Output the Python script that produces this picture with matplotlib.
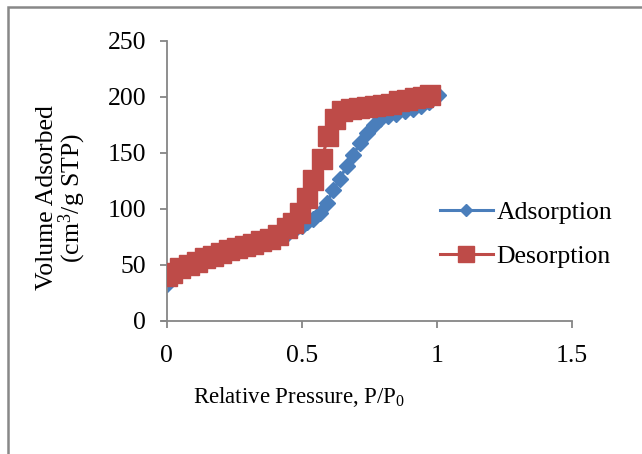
import matplotlib
matplotlib.use("Agg")
import matplotlib.pyplot as plt
from matplotlib.patches import Rectangle

# Data
ads_x = [0.00, 0.02, 0.05, 0.08, 0.11, 0.14, 0.17, 0.20, 0.23, 0.26, 0.29, 0.32,
         0.35, 0.38, 0.41, 0.44, 0.47, 0.50, 0.52, 0.54, 0.567, 0.592, 0.616, 0.641,
         0.665, 0.69, 0.715, 0.74, 0.765, 0.79, 0.82, 0.85, 0.88, 0.91, 0.94, 0.97, 1.005]
ads_y = [33, 40, 45, 48, 51, 54, 56, 59, 61, 63, 65, 67,
         69, 71, 74, 77, 81, 85, 88, 91, 96, 105, 117, 127,
         138, 148, 159, 168, 175, 180, 183, 185, 187, 189, 192, 195, 202]

des_x = [0.00, 0.02, 0.05, 0.08, 0.11, 0.14, 0.17, 0.20, 0.23, 0.26, 0.29, 0.32,
         0.35, 0.38, 0.41, 0.443, 0.468, 0.493, 0.517, 0.542, 0.573, 0.598, 0.622,
         0.647, 0.68, 0.71, 0.74, 0.77, 0.80, 0.83, 0.86, 0.89, 0.92, 0.95, 0.975]
des_y = [40, 43, 47, 50, 53, 56, 58, 61, 63, 65, 67, 69,
         71, 73, 77, 83, 87, 96, 110, 126, 145, 165, 180,
         187, 189, 190, 191, 192, 193, 194, 196, 197, 199, 200, 202]

x_ticks = [0, 0.5, 1, 1.5]
x_tick_labels = ['0', '0.5', '1', '1.5']
y_ticks = [0, 50, 100, 150, 200, 250]

blue = "#4A7EBB"
red = "#BE4B48"
grey = "#868686"

plt.rcParams['font.family'] = ['Liberation Serif', 'DejaVu Serif']
plt.rcParams['mathtext.fontset'] = 'custom'
plt.rcParams['mathtext.rm'] = 'Liberation Serif'
plt.rcParams['mathtext.it'] = 'Liberation Serif'
plt.rcParams['mathtext.default'] = 'rm'

fig = plt.figure(figsize=(6.42, 4.54), dpi=100)
ax = fig.add_axes([0.260, 0.293, 0.631, 0.617])

ax.plot(ads_x, ads_y, color=blue, lw=2.2, marker='D', ms=8.5,
        markeredgecolor=blue, markerfacecolor=blue, label='Adsorption', zorder=2)
ax.plot(des_x, des_y, color=red, lw=2.2, marker='s', ms=14.5,
        markeredgecolor=red, markerfacecolor=red, label='Desorption', zorder=3)

ax.set_xlim(0, 1.5)
ax.set_ylim(0, 250)
ax.set_xticks(x_ticks)
ax.set_xticklabels(x_tick_labels)
ax.set_yticks(y_ticks)

for s in ['top', 'right']:
    ax.spines[s].set_visible(False)
for s in ['left', 'bottom']:
    ax.spines[s].set_color(grey)
    ax.spines[s].set_linewidth(1.3)
ax.spines['bottom'].set_bounds(-0.02, 1.5)
ax.tick_params(axis='both', direction='out', length=5, width=1.3, color=grey,
               labelsize=18.5, labelcolor='black')
ax.tick_params(axis='x', pad=12)
ax.tick_params(axis='y', pad=10)

# x label (centred left of axis centre as in the reference)
fig.text(299 / 642, 1 - 397 / 454, 'Relative Pressure, P/P$_0$', fontsize=16.5,
         ha='center', va='center')
ax.set_ylabel('Volume Adsorbed\n(cm$^3$/g STP)', fontsize=18.5,
              linespacing=0.95)
ax.yaxis.set_label_coords(-0.195, 0.44)

leg = fig.legend(handles=ax.get_lines(), loc='upper left',
                 bbox_to_anchor=(440 / 642, 1 - 201 / 454),
                 bbox_transform=fig.transFigure, frameon=False, borderpad=0,
                 borderaxespad=0, fontsize=18.5, handlelength=2.05,
                 handletextpad=0.15, labelspacing=0.82, markerscale=0.75)

fig.patches.append(Rectangle((7.5 / 642, -0.1), 2.0, 1.1 - 7.5 / 454,
                             transform=fig.transFigure, fill=False,
                             edgecolor='#888888', linewidth=1.8))

fig.savefig('out.png', dpi=100)
